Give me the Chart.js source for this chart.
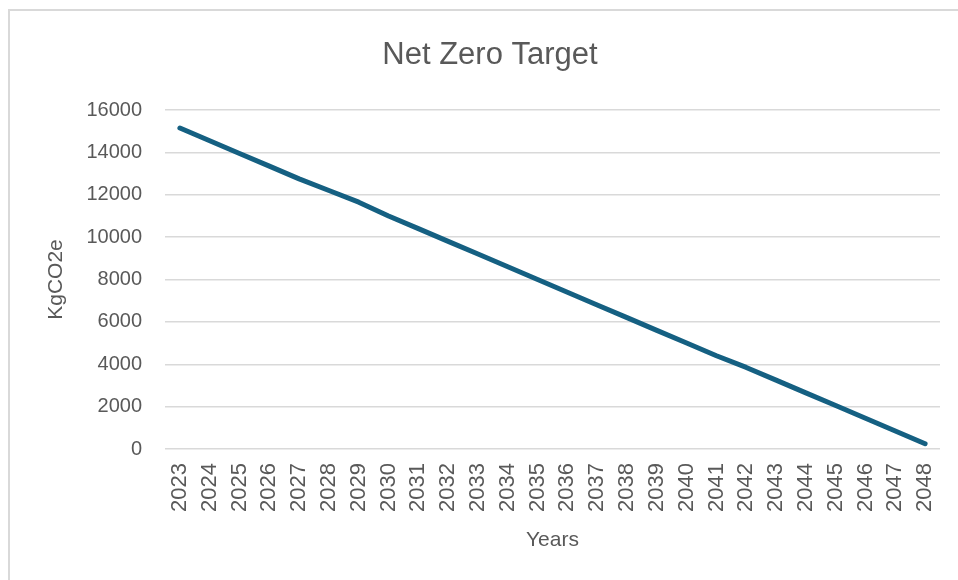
<!DOCTYPE html>
<html>
<head>
<meta charset="utf-8">
<script src="https://cdn.jsdelivr.net/npm/chart.js@4"></script>
<style>
  html, body { margin: 0; padding: 0; background: #ffffff; }
  #wrap { position: relative; width: 958px; height: 580px; overflow: hidden; }
  #frame {
    position: absolute; left: 8px; top: 9px; width: 980px; height: 600px;
    border-top: 2px solid #d9d9d9; border-left: 2px solid #d9d9d9;
  }
  canvas { position: absolute; left: 0; top: 0; }
</style>
</head>
<body>
<div id="wrap">
  <div id="frame"></div>
  <canvas id="chart" width="958" height="580"></canvas>
</div>
<script>
// данные
const years = ['2023', '2024', '2025', '2026', '2027', '2028', '2029', '2030', '2031', '2032',
  '2033', '2034', '2035', '2036', '2037', '2038', '2039', '2040', '2041', '2042',
  '2043', '2044', '2045', '2046', '2047', '2048'];
const emissions = [15150, 14550, 13950, 13350, 12750, 12200, 11650, 11000, 10400, 9800,
  9200, 8600, 8000, 7400, 6800, 6200, 5600, 5000, 4400, 3850,
  3250, 2650, 2050, 1450, 850, 250];
const yTicks = [0, 2000, 4000, 6000, 8000, 10000, 12000, 14000, 16000];
const chartTitle = 'Net Zero Target';

const gray = '#595959';
const regular = "'Liberation Sans', Arial, sans-serif";

// заголовок рисуем сами, чтобы поставить его по центру как в оригинале
const titlePlugin = {
  id: 'centerTitle',
  afterDraw(chart) {
    const { ctx } = chart;
    ctx.save();
    ctx.fillStyle = gray;
    ctx.font = `31px ${regular}`;
    ctx.textAlign = 'center';
    ctx.textBaseline = 'middle';
    ctx.fillText(chartTitle, 490, 55);
    ctx.restore();
  },
};

const chart = new Chart(document.getElementById('chart'), {
  type: 'line',
  data: {
    labels: years,
    datasets: [{
      data: emissions,
      borderColor: '#156082',
      borderWidth: 5,
      borderCapStyle: 'round',
      borderJoinStyle: 'round',
      pointRadius: 0,
      tension: 0,
      fill: false,
    }],
  },
  options: {
    responsive: false,
    animation: false,
    devicePixelRatio: 1,
    layout: { padding: { top: 110, left: 0, right: 18, bottom: 0 } },
    plugins: {
      legend: { display: false },
      tooltip: { enabled: false },
      title: { display: false },
    },
    scales: {
      x: {
        offset: true,
        border: { display: false },
        grid: { display: false, drawTicks: false },
        ticks: {
          color: gray,
          font: { family: regular, size: 22 },
          minRotation: 90,
          maxRotation: 90,
          autoSkip: false,
          padding: 14,
        },
        title: {
          display: true,
          text: 'Years',
          color: gray,
          font: { family: regular, size: 21, lineHeight: 1.2 },
          padding: { top: 27, bottom: 27 },
        },
        afterFit(scale) {
          scale.height = 131;
          // убираем лишний отступ справа от повёрнутых подписей
          scale.paddingLeft = 0;
          scale.paddingRight = 0;
        },
      },
      y: {
        min: 0,
        max: 16000,
        border: { display: false },
        grid: { color: '#d9d9d9', lineWidth: 1.5, drawTicks: false },
        afterBuildTicks(scale) { scale.ticks = yTicks.map((v) => ({ value: v })); },
        ticks: {
          color: gray,
          font: { family: regular, size: 20 },
          padding: 23,
          callback: (value) => String(value),
        },
        title: {
          display: true,
          text: 'KgCO2e',
          color: gray,
          font: { family: regular, size: 21, lineHeight: 1.2 },
          padding: { top: 44, bottom: 44 },
        },
        afterFit(scale) { scale.width = 165; },
      },
    },
  },
  plugins: [titlePlugin],
});
</script>
</body>
</html>
